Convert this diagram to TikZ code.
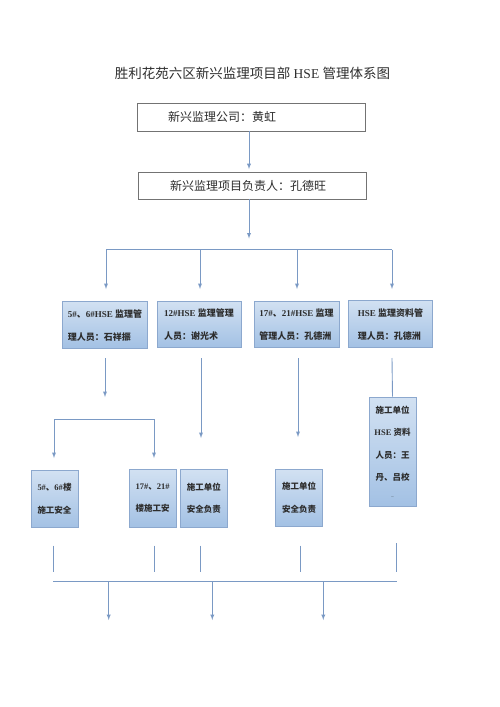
\documentclass[tikz,border=0pt]{standalone}
\usepackage{fontspec}
\setmainfont{Liberation Serif}
\newfontfamily\cjk{Noto Sans CJK SC}
\newcommand{\zh}[1]{{\cjk #1}}
\newcommand{\pad}{\mbox{}\\[-14pt]}
\usetikzlibrary{positioning, arrows}
\definecolor{linec}{RGB}{122,153,196}
\definecolor{boxtop}{RGB}{210,225,242}
\definecolor{boxbot}{RGB}{163,193,228}
\definecolor{boxedge}{RGB}{140,168,206}
\definecolor{txt}{RGB}{45,45,45}

\begin{document}
\begin{tikzpicture}[x=1pt, y=-1pt]
\tikzstyle{sqr}=[rectangle, draw=black!55, fill=white, line width=0.8pt, text=txt, align=left, font=\fontsize{12}{14}\selectfont]
\tikzstyle{blu}=[rectangle, draw=boxedge, line width=0.8pt, top color=boxtop, bottom color=boxbot, text=txt, inner sep=0pt]
\tikzstyle{mid}=[blu, align=left, font=\bfseries\fontsize{9}{23}\selectfont]
\tikzstyle{low}=[blu, align=center, font=\bfseries\fontsize{8.5}{22.5}\selectfont]
\tikzstyle{connect}=[-latex, draw=linec, line width=0.9pt]
\tikzstyle{wire}=[draw=linec, line width=0.9pt]
\useasboundingbox (0,0) rectangle (500,707);
% 1. Title and top boxes
%%%%%%%%%%
\node[text=txt, font=\fontsize{13.5}{16}\selectfont] (title) at (252.5,73)
      {\zh{胜利花苑六区新兴监理项目部} HSE \zh{管理体系图}};
\node[sqr, minimum width=228pt, minimum height=28pt, text width=166pt] (comp) at (251,117) {\zh{新兴监理公司：黄虹}};
\node[sqr, minimum width=228pt, minimum height=27pt, text width=164pt] (lead) at (252,185.5) {\zh{新兴监理项目负责人：孔德旺}};

% 2. Nodes
%%%%%%%%%%
\node[mid, minimum width=85pt, minimum height=47pt] (m1) at (105,324.5)
      {\pad 5\#\zh{、}6\#HSE~\zh{监理管}\\\zh{理人员：石祥振}};
\node[mid, minimum width=84pt, minimum height=46pt] (m2) at (199,324)
      {\pad 12\#HSE~\zh{监理管理}\\\zh{人员：谢光术}};
\node[mid, minimum width=85pt, minimum height=46pt] (m3) at (296.5,324)
      {\pad 17\#\zh{、}21\#HSE~\zh{监理}\\\zh{管理人员：孔德洲}};
\node[mid, minimum width=84pt, minimum height=47pt] (m4) at (390.5,323.5)
      {\pad HSE~\zh{监理资料管}\\\zh{理人员：孔德洲}};

\node[low, minimum width=47pt, minimum height=57pt] (s1) at (54.5,499) {5\#\zh{、}6\#\zh{楼}\\\zh{施工安全}};
\node[low, minimum width=47pt, minimum height=58pt] (s2) at (152.7,498) {17\#\zh{、}21\#\\\zh{楼施工安}};
\node[low, minimum width=47pt, minimum height=58pt] (s3) at (203.8,498) {\zh{施工单位}\\\zh{安全负责}};
\node[low, minimum width=47pt, minimum height=57pt] (s4) at (299,497.5) {\zh{施工单位}\\\zh{安全负责}};
\node[low, minimum width=47pt, minimum height=109pt] (s5) at (392.5,451.5)
      {\zh{施工单位}\\HSE~\zh{资料}\\\zh{人员：王}\\\zh{丹、吕校}\\[-6pt]{\fontsize{3}{3}\selectfont ...}};

% junction points
\coordinate (hub) at (249,238.5);
\foreach \n/\x in {1/106, 2/200, 3/297, 4/392} {
  \coordinate (k\n) at (\x,249.5);
  \coordinate (t\n) at (\x,289);
}
\coordinate (d1) at (105,358);  \coordinate (e1) at (105,397);
\coordinate (bl) at (54,419);   \coordinate (br) at (154,419);
\coordinate (bl2) at (54,458);  \coordinate (br2) at (154,458);
\coordinate (d2) at (201,358);  \coordinate (e2) at (201,438);
\coordinate (d3) at (298,358);  \coordinate (e3) at (298,437);
\coordinate (d4) at (392,358);
\foreach \n/\x/\y in {1/53/545.5, 2/154.5/545.5, 3/200/545.5, 4/300/545.5, 5/396/543} {
  \coordinate (u\n) at (\x,\y);
  \coordinate (v\n) at (\x,571.5);
}
\coordinate (fl) at (53,581);   \coordinate (fr) at (396.5,581);
\foreach \n/\x in {1/108.7, 2/212.3, 3/323.3} {
  \coordinate (f\n) at (\x,581);
  \coordinate (g\n) at (\x,620);
}

% 3. Arrows
%%%%%%%%%%%
\path ([xshift=-2pt]comp.south) edge [connect, shorten >=2.5pt] ([xshift=-3pt]lead.north)
      ([xshift=-3pt]lead.south) edge [connect] (hub)
      (k1)  edge [wire] (k4)
      (k1)  edge [connect] (t1)
      (k2)  edge [connect] (t2)
      (k3)  edge [connect] (t3)
      (k4)  edge [connect] (t4)
      (d1)  edge [connect] (e1)
      (bl)  edge [wire] (br)
      (bl)  edge [connect] (bl2)
      (br)  edge [connect] (br2)
      (d2)  edge [connect] (e2)
      (d3)  edge [connect] (e3)
      (d4)  edge [wire] (s5.north)
      (fl)  edge [wire] (fr);
\foreach \n in {1,...,5} \path (u\n) edge [wire] (v\n);
\foreach \n in {1,2,3} \path (f\n) edge [connect] (g\n);

\end{tikzpicture}
\end{document}
